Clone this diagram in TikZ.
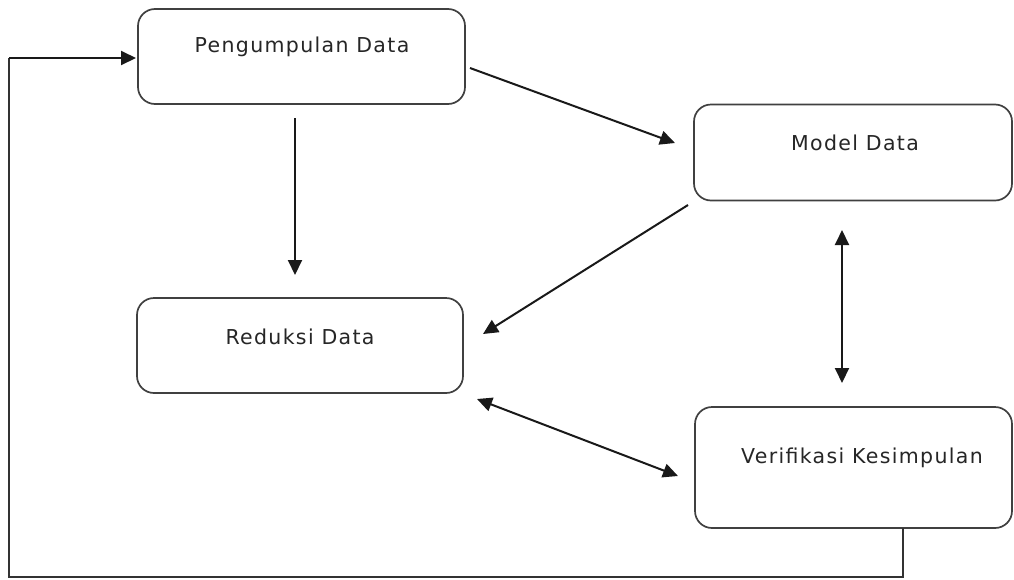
\documentclass[tikz,border=0pt]{standalone}
\usepackage{fontspec}
\setmainfont{DejaVu Sans}[LetterSpace=6.5]
\usetikzlibrary{arrows.meta}
\begin{document}
\begin{tikzpicture}[x=1pt,y=-1pt,
  box/.style={draw=black!75, line width=1.7pt, rounded corners=17pt, fill=white, inner sep=0pt},
  txt/.style={font=\fontsize{20.5}{24}\selectfont, text=black!85, inner sep=0pt},
  conn/.style={draw=black!90, line width=2pt, -{Triangle[length=15pt,width=14pt]}},
  dconn/.style={draw=black!90, line width=2pt, {Triangle[length=15pt,width=14pt]}-{Triangle[length=15pt,width=14pt]}},
  fb/.style={draw=black!80, line width=1.7pt}]
\useasboundingbox (0,0) rectangle (1014,579);
% boxes
\node[box, minimum width=327pt, minimum height=95pt] (p) at (301.5,56.5) {};
\node[box, minimum width=318pt, minimum height=96pt] (m) at (853,152.5) {};
\node[box, minimum width=326pt, minimum height=95pt] (r) at (300,345.5) {};
\node[box, minimum width=317pt, minimum height=121pt] (v) at (853.5,467.5) {};
% texts
\node[txt] (pt) at (302,47) {Pengumpulan Data};
\node[txt] (mt) at (855,143) {Model Data};
\node[txt] (rt) at (300,337) {Reduksi Data};
\node[txt] (vt) at (862,458) {Verifikasi Kesimpulan};
% connector end points
\coordinate (a1s) at (470,68);  \coordinate (a1e) at (675,143);
\coordinate (a2s) at (295,118); \coordinate (a2e) at (295,275);
\coordinate (a3s) at (688,205); \coordinate (a3e) at (483,334);
\coordinate (a4s) at (842,230); \coordinate (a4e) at (842,383);
\coordinate (a5s) at (477,399); \coordinate (a5e) at (678,476);
\coordinate (f0) at (903,528);
\coordinate (f1) at (903,577);
\coordinate (f2) at (9,577);
\coordinate (f3) at (9,58);
\coordinate (f4) at (136,58);
% connectors
\draw[conn] (a1s) -- (a1e);
\draw[conn] (a2s) -- (a2e);
\draw[conn] (a3s) -- (a3e);
\draw[dconn] (a4s) -- (a4e);
\draw[dconn] (a5s) -- (a5e);
\draw[fb] (f0) -- (f1) -- (f2) -- (f3);
\draw[conn] (f3) -- (f4);
\end{tikzpicture}
\end{document}
